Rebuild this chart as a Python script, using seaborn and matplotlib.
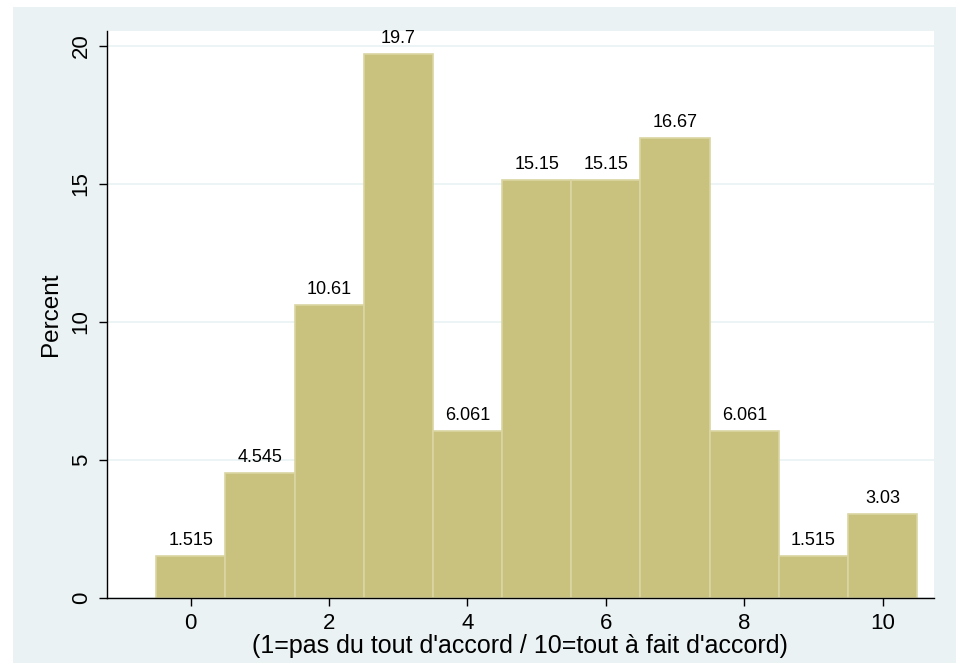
import numpy as np
import pandas as pd
import seaborn as sns
import matplotlib.pyplot as plt
from matplotlib.patches import Rectangle

# Histogram of scores 0..10, percent per score
scores = [0, 1, 2, 3, 4, 5, 6, 7, 8, 9, 10]
percent = [1.515, 4.545, 10.61, 19.7, 6.061, 15.15, 15.15, 16.67, 6.061, 1.515, 3.03]
bar_labels = ["1.515", "4.545", "10.61", "19.7", "6.061", "15.15", "15.15", "16.67", "6.061", "1.515", "3.03"]
y_ticks = [0, 5, 10, 15, 20]
x_ticks = [0, 2, 4, 6, 8, 10]

df = pd.DataFrame({"score": scores, "percent": percent})

sns.set_style("white")
plt.rcParams["font.family"] = ["Liberation Sans", "DejaVu Sans"]
plt.rcParams["text.color"] = "black"
plt.rcParams["axes.labelcolor"] = "black"
plt.rcParams["xtick.color"] = "black"
plt.rcParams["ytick.color"] = "black"

bg = "#EAF2F3"
fig = plt.figure(figsize=(9.57, 6.63), dpi=100, facecolor="white")
# Stata-style graph region, with a thin white margin at left/top
fig.patches.append(Rectangle((13 / 957, 0), 943 / 957, 656 / 663, transform=fig.transFigure,
                             facecolor=bg, edgecolor="none", zorder=-10))
ax = fig.add_axes([0.1118, 0.098, 0.864, 0.855])
ax.set_facecolor("white")

ax.set_axisbelow(True)
for t in y_ticks:
    ax.axhline(t, color=bg, lw=1.2, zorder=0)

sns.histplot(data=df, x="score", weights="percent", discrete=True,
             color="#C9C27F", alpha=1, edgecolor="#DAD5A3", linewidth=1.2, ax=ax)

ax.bar_label(ax.containers[0], labels=bar_labels, padding=5, fontsize=13)

ax.set_xlim(-1.21, 10.74)
ax.set_ylim(0, 20.54)
ax.set_xticks(x_ticks)
ax.set_yticks(y_ticks)
ax.tick_params(axis="both", bottom=True, left=True, direction="out", length=6, width=1,
               labelsize=16, color="black", pad=5)
plt.setp(ax.get_yticklabels(), rotation=90, va="center")
ax.set_ylabel("Percent", fontsize=17.5, labelpad=6)
ax.set_xlabel("(1=pas du tout d'accord / 10=tout à fait d'accord)", fontsize=18, labelpad=0)

for s in ["top", "right"]:
    ax.spines[s].set_visible(False)
for s in ["left", "bottom"]:
    ax.spines[s].set_color("black")
    ax.spines[s].set_linewidth(1)

fig.savefig("out.png", dpi=100, facecolor="white")
